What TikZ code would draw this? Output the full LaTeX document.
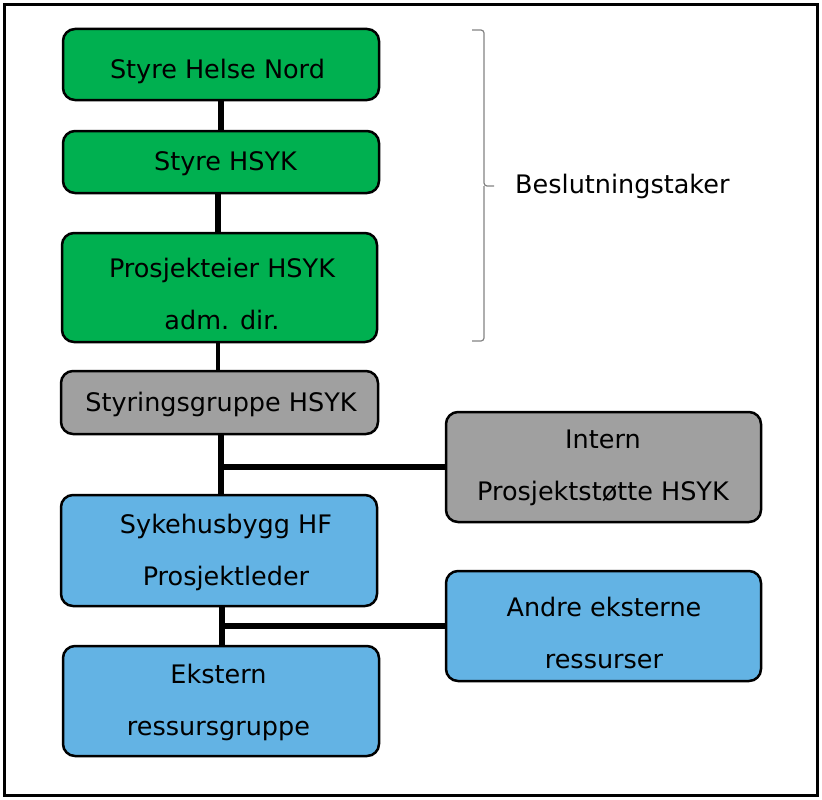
\documentclass[tikz,border=0pt]{standalone}
\usepackage{fontspec}
\setmainfont{DejaVu Sans}
\definecolor{bgreen}{RGB}{0,176,80}
\definecolor{bgray}{RGB}{160,160,160}
\definecolor{bblue}{RGB}{99,179,228}
\definecolor{bracegray}{RGB}{130,130,130}
\begin{document}
\begin{tikzpicture}[x=1pt,y=-1pt,
  box/.style={draw=black, line width=2.5pt, rounded corners=12pt, rectangle, inner sep=0pt},
  gbox/.style={box, fill=bgreen},
  rbox/.style={box, fill=bgray},
  ubox/.style={box, fill=bblue},
  lbl/.style={font=\fontsize{25.5}{52}\selectfont, align=center, inner sep=0pt, text=black},
  conn/.style={line width=5.5pt, black},
  brc/.style={draw=bracegray, line width=1.2pt, rounded corners=3pt}]
\useasboundingbox (0,0) rectangle (822,800);
\draw[line width=3pt] (4.5,4.5) rectangle (817.5,795.5);

% boxes
\node[gbox, minimum width=316pt, minimum height=71pt] (n1) at (221,64.5) {};
\node[gbox, minimum width=316pt, minimum height=62pt] (n2) at (221,162) {};
\node[gbox, minimum width=315pt, minimum height=109pt] (n3) at (219.5,287.5) {};
\node[rbox, minimum width=317pt, minimum height=63pt] (n4) at (219.5,402.5) {};
\node[rbox, minimum width=315pt, minimum height=110pt] (n5) at (603.5,467) {};
\node[ubox, minimum width=316pt, minimum height=111pt] (n6) at (219,550.5) {};
\node[ubox, minimum width=315pt, minimum height=110pt] (n7) at (603.5,626) {};
\node[ubox, minimum width=316pt, minimum height=110pt] (n8) at (221,701) {};

% connectors
\coordinate (j1) at (221,467);
\coordinate (j2) at (222,626);
\draw[conn] (221,100) -- (221,131);
\draw[conn] (218,193) -- (218,233);
\draw[line width=4pt] (218,342) -- (218,371);
\draw[conn] (221,434) -- (221,495);
\draw[conn] (j1) -- (n5.west);
\draw[conn] (222,606) -- (222,646);
\draw[conn] (j2) -- (n7.west);

% labels
\node[lbl] (t1) at (217.5,71) {Styre Helse Nord};
\node[lbl] (t2) at (225.5,164) {Styre HSYK};
\node[lbl] (t3) at (222,294) {Prosjekteier HSYK\\adm. dir.};
\node[lbl] (t4) at (221,404) {Styringsgruppe HSYK};
\node[lbl] (t5) at (603,467.5) {Intern\\Prosjektstøtte HSYK};
\node[lbl] (t6) at (226,552.5) {Sykehusbygg HF\\Prosjektleder};
\node[lbl] (t7) at (604,633) {Andre eksterne\\ressurser};
\node[lbl] (t8) at (218.5,702.5) {Ekstern\\ressursgruppe};

% brace
\coordinate (bt) at (472,30);
\coordinate (bm) at (494,186);
\coordinate (bb) at (472,341);
\draw[brc] (bt) -| (484,186) -- (bm);
\draw[brc] (484,186) |- (bb);
\node[lbl, anchor=west] (bl) at (515,186) {Beslutningstaker};
\end{tikzpicture}
\end{document}
